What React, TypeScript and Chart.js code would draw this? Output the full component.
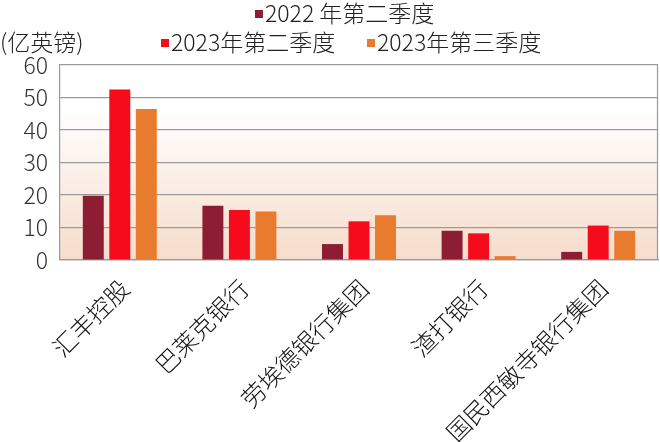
import React, { useEffect, useRef } from "react";
import { Chart, registerables } from "chart.js";

Chart.register(...registerables);

const categories = ["汇丰控股", "巴莱克银行", "劳埃德银行集团", "渣打银行", "国民西敏寺银行集团"];
const seriesNames = ["2022 年第二季度", "2023年第二季度", "2023年第三季度"];
const q2_2022 = [19.8, 16.7, 4.9, 9.0, 2.5];
const q2_2023 = [52.5, 15.4, 11.9, 8.2, 10.6];
const q3_2023 = [46.5, 14.9, 13.8, 1.2, 9.0];
const yMin = 0;
const yMax = 60;
const yStep = 10;
const unitLabel = "(亿英镑)";

const colors = ["#8D1D33", "#F50B1B", "#E97B2F"];
const FONT = '"Noto Sans CJK SC", "Noto Sans", sans-serif';

const bgPlugin = {
  id: "bgGradient",
  beforeDraw(chart: any) {
    const { ctx, chartArea } = chart;
    if (!chartArea) return;
    const g = ctx.createLinearGradient(0, chartArea.top, 0, chartArea.bottom);
    g.addColorStop(0, "#ffffff");
    g.addColorStop(0.22, "#ffffff");
    g.addColorStop(1, "#f6dccb");
    ctx.save();
    ctx.fillStyle = g;
    ctx.fillRect(chartArea.left, chartArea.top, chartArea.right - chartArea.left, chartArea.bottom - chartArea.top);
    ctx.restore();
  },
  afterDatasetsDraw(chart: any) {
    const { ctx, chartArea } = chart;
    ctx.save();
    ctx.strokeStyle = "#9a9a9a";
    ctx.lineWidth = 1.2;
    ctx.beginPath();
    ctx.moveTo(chartArea.right - 0.5, chartArea.top);
    ctx.lineTo(chartArea.right - 0.5, chartArea.bottom);
    ctx.stroke();
    ctx.restore();
  },
};

const legendPlugin = {
  id: "customLegend",
  afterDraw(chart: any) {
    const { ctx } = chart;
    ctx.save();
    ctx.font = `300 23px ${FONT}`;
    ctx.textBaseline = "middle";
    ctx.fillStyle = "#222";
    ctx.textAlign = "left";
    ctx.fillText(unitLabel, 0, 42);
    const items = [
      { x: 255, y: 13 },
      { x: 161, y: 42 },
      { x: 367, y: 42 },
    ];
    chart.data.datasets.forEach((ds: any, i: number) => {
      const p = items[i];
      ctx.fillStyle = ds.backgroundColor;
      ctx.fillRect(p.x, p.y - 3, 8, 8);
      ctx.fillStyle = "#222";
      ctx.fillText(ds.label, p.x + 10, p.y);
    });
    ctx.restore();
  },
};

export default function App() {
  const ref = useRef<HTMLCanvasElement>(null);
  useEffect(() => {
    if (!ref.current) return;
    const chart = new Chart(ref.current, {
      type: "bar",
      data: {
        labels: categories,
        datasets: [
          { label: seriesNames[0], data: q2_2022, backgroundColor: colors[0] },
          { label: seriesNames[1], data: q2_2023, backgroundColor: colors[1] },
          { label: seriesNames[2], data: q3_2023, backgroundColor: colors[2] },
        ],
      },
      options: {
        animation: false,
        responsive: true,
        maintainAspectRatio: false,
        datasets: { bar: { categoryPercentage: 0.665, barPercentage: 0.79 } },
        layout: { padding: { top: 65, right: 2, left: 0, bottom: 0 } },
        plugins: { legend: { display: false }, tooltip: { enabled: false } },
        scales: {
          x: {
            grid: { display: false },
            border: { display: true, color: "#9a9a9a", width: 1.2 },
            ticks: {
              maxRotation: 45,
              minRotation: 45,
              autoSkip: false,
              padding: 6,
              labelOffset: 5,
              color: "#111",
              font: { family: FONT, size: 24, weight: "300" as any },
            },
            afterFit(scale: any) {
              scale.height = 182;
            },
          },
          y: {
            min: yMin,
            max: yMax,
            ticks: {
              stepSize: yStep,
              padding: 12,
              color: "#333",
              font: { family: FONT, size: 23, weight: "300" as any },
            },
            grid: { color: "#9a9a9a", lineWidth: 1.2, drawTicks: false },
            border: { display: true, color: "#9a9a9a", width: 1.2 },
            afterFit(scale: any) {
              scale.width = 60;
            },
          },
        },
      },
      plugins: [bgPlugin, legendPlugin],
    });
    return () => chart.destroy();
  }, []);
  return (
    <div style={{ position: "fixed", left: 0, top: 0, width: 660, height: 442, background: "#fff" }}>
      <canvas ref={ref} />
    </div>
  );
}
